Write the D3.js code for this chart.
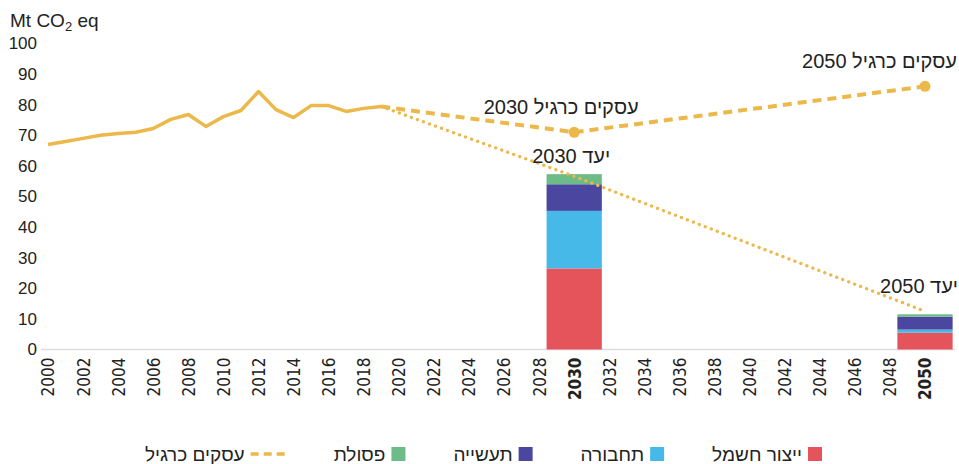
<!DOCTYPE html>
<html>
<head>
<meta charset="utf-8">
<script src="https://cdn.jsdelivr.net/npm/d3@7"></script>
<style>
    body { margin: 0; background: #fff; }
    svg text { font-family: "Liberation Sans", "DejaVu Sans", sans-serif; fill: #222; }
    .xlab text { font-family: "Liberation Sans Narrow", "DejaVu Sans Condensed", "Liberation Sans", sans-serif; }
</style>
</head>
<body>
<svg id="chart" width="959" height="464"></svg>
<script>

// historical emissions
const histYears = [2000, 2001, 2002, 2003, 2004, 2005, 2006, 2007, 2008, 2009, 2010,
    2011, 2012, 2013, 2014, 2015, 2016, 2017, 2018, 2019];
const histValues = [67.0, 68.0, 69.0, 70.0, 70.6, 71.0, 72.2, 75.2, 76.8, 72.9, 76.1,
    78.1, 84.3, 78.4, 75.8, 79.7, 79.7, 77.8, 78.8, 79.4];

// business as usual & target paths
const bauYears = [2019, 2030, 2050];
const bauValues = [79.4, 71, 86];
const targetYears = [2019, 2030, 2050];
const targetValues = [79.4, 56.6, 12.5];

// stacked bars
const barYears = [2030, 2050];
const sectors = ['ייצור חשמל', 'תחבורה', 'תעשייה', 'פסולת'];
const sectorColors = ['#e5535b', '#47b9e9', '#4b469f', '#6dbb87'];
const electricity = [26.5, 5.5];
const transport = [18.8, 1.0];
const industry = [8.7, 4.2];
const waste = [3.3, 0.8];

const yTicks = [0, 10, 20, 30, 40, 50, 60, 70, 80, 90, 100];
const xTicks = d3.range(2000, 2051, 2);
const boldYears = [2030, 2050];
const bauLabel = 'עסקים כרגיל';
const targetLabel = 'יעד';
const unitLabel = ['Mt CO', '2', ' eq'];

const gold = '#ecb84a';

let svg = d3.select('#chart');

let x = d3.scaleLinear().domain([2000, 2050]).range([48, 925]);
let y = d3.scaleLinear().domain([0, 100]).range([349.5, 43.5]);
let barW = x(2003.15) - x(2000);

// y axis
let yAxis = svg.append('g')
    .attr('transform', 'translate(40,0)')
    .call(d3.axisLeft(y).tickValues(yTicks).tickSize(0).tickPadding(3));
yAxis.select('.domain').remove();
yAxis.selectAll('text').style('font-size', '17px').attr('fill', '#222');

// unit title
let unit = svg.append('text').attr('x', 10).attr('y', 27).style('font-size', '19px');
unit.append('tspan').text(unitLabel[0]);
unit.append('tspan').attr('dy', 4).style('font-size', '13px').text(unitLabel[1]);
unit.append('tspan').attr('dy', -4).text(unitLabel[2]);

// baseline
svg.append('line')
    .attr('x1', x(2000) - 7).attr('x2', x(2050) + 30)
    .attr('y1', y(0)).attr('y2', y(0))
    .attr('stroke', '#dcdcdc').attr('stroke-width', 1.5);

// x axis
let xAxis = svg.append('g')
    .attr('class', 'xlab')
    .attr('transform', 'translate(0,' + y(0) + ')')
    .call(d3.axisBottom(x).tickValues(xTicks).tickSize(0).tickFormat(d3.format('d')));
xAxis.select('.domain').remove();
xAxis.selectAll('text')
    .style('font-size', '17px')
    .attr('fill', '#222')
    .attr('transform', 'rotate(-90)')
    .attr('text-anchor', 'end')
    .attr('x', -8)
    .attr('y', 0)
    .attr('dy', '0.35em')
    .style('font-weight', d => boldYears.includes(d) ? 'bold' : 'normal');

// stacked bars
let barRows = barYears.map((yr, i) => ({
    year: yr, e: electricity[i], t: transport[i], ind: industry[i], w: waste[i]
}));
let stack = d3.stack().keys(['e', 't', 'ind', 'w'])(barRows);

svg.append('g').selectAll('g')
    .data(stack)
    .join('g')
    .attr('fill', (d, i) => sectorColors[i])
    .selectAll('rect')
    .data(d => d)
    .join('rect')
    .attr('x', d => x(d.data.year) - barW / 2)
    .attr('width', barW)
    .attr('y', d => y(d[1]))
    .attr('height', d => y(d[0]) - y(d[1]));

// lines
let line = d3.line().x(d => x(d[0])).y(d => y(d[1]));

svg.append('path')
    .datum(d3.zip(targetYears, targetValues))
    .attr('d', line)
    .attr('fill', 'none')
    .attr('stroke', gold)
    .attr('stroke-width', 3.3)
    .attr('stroke-linecap', 'round')
    .attr('stroke-dasharray', '0.1 6.3');

svg.append('path')
    .datum(d3.zip(bauYears, bauValues))
    .attr('d', line)
    .attr('fill', 'none')
    .attr('stroke', gold)
    .attr('stroke-width', 4)
    .attr('stroke-dasharray', '9 6');

svg.append('path')
    .datum(d3.zip(histYears, histValues))
    .attr('d', line)
    .attr('fill', 'none')
    .attr('stroke', gold)
    .attr('stroke-width', 3.5)
    .attr('stroke-linejoin', 'round');

svg.append('g').selectAll('circle')
    .data(d3.zip(bauYears, bauValues).slice(1))
    .join('circle')
    .attr('cx', d => x(d[0]))
    .attr('cy', d => y(d[1]))
    .attr('r', 5.5)
    .attr('fill', gold);

// annotations
let totals = barRows.map(r => r.e + r.t + r.ind + r.w);

svg.append('text')
    .attr('x', x(2030) - 13).attr('y', y(bauValues[1]) - 18)
    .attr('text-anchor', 'middle').style('font-size', '20px')
    .text(bauLabel + ' 2030');

svg.append('text')
    .attr('x', x(2030) - 3).attr('y', y(totals[0]) - 11)
    .attr('text-anchor', 'middle').style('font-size', '20px')
    .text(targetLabel + ' 2030');

svg.append('text')
    .attr('x', x(2050) + 32).attr('y', y(bauValues[2]) - 18)
    .attr('text-anchor', 'end').style('font-size', '20px')
    .text(bauLabel + ' 2050');

svg.append('text')
    .attr('x', x(2050) + 33).attr('y', y(totals[1]) - 21)
    .attr('text-anchor', 'end').style('font-size', '20px')
    .text(targetLabel + ' 2050');

// legend (right to left)
let legendItems = sectors.map((s, i) => ({ label: s, color: sectorColors[i], dash: false }));
legendItems.push({ label: bauLabel, color: gold, dash: true });

let legend = svg.append('g');
let legY = 454;
let right = 822, left = 145;

let items = legend.selectAll('g')
    .data(legendItems)
    .join('g');

items.append('text')
    .style('font-size', '19px')
    .attr('text-anchor', 'end')
    .attr('y', legY)
    .attr('dy', '0.35em')
    .text(d => d.label);

let widths = [];
items.select('text').each(function(){ widths.push(this.getComputedTextLength()); });
let markW = legendItems.map(d => d.dash ? 35 : 14);
let used = d3.sum(widths) + d3.sum(markW) + 6 * legendItems.length;
let gap = (right - left - used) / (legendItems.length - 1);

let cursor = right;
items.each(function(d, i){
    let g = d3.select(this);
    if(d.dash){
        g.append('line')
            .attr('x1', cursor - markW[i]).attr('x2', cursor)
            .attr('y1', legY).attr('y2', legY)
            .attr('stroke', d.color).attr('stroke-width', 3.5)
            .attr('stroke-dasharray', '8 5');
    } else {
        g.append('rect')
            .attr('x', cursor - markW[i]).attr('y', legY - 7)
            .attr('width', markW[i]).attr('height', 14)
            .attr('fill', d.color);
    }
    g.select('text').attr('x', cursor - markW[i] - 6);
    cursor = cursor - markW[i] - 6 - widths[i] - gap;
});

</script>
</body>
</html>
